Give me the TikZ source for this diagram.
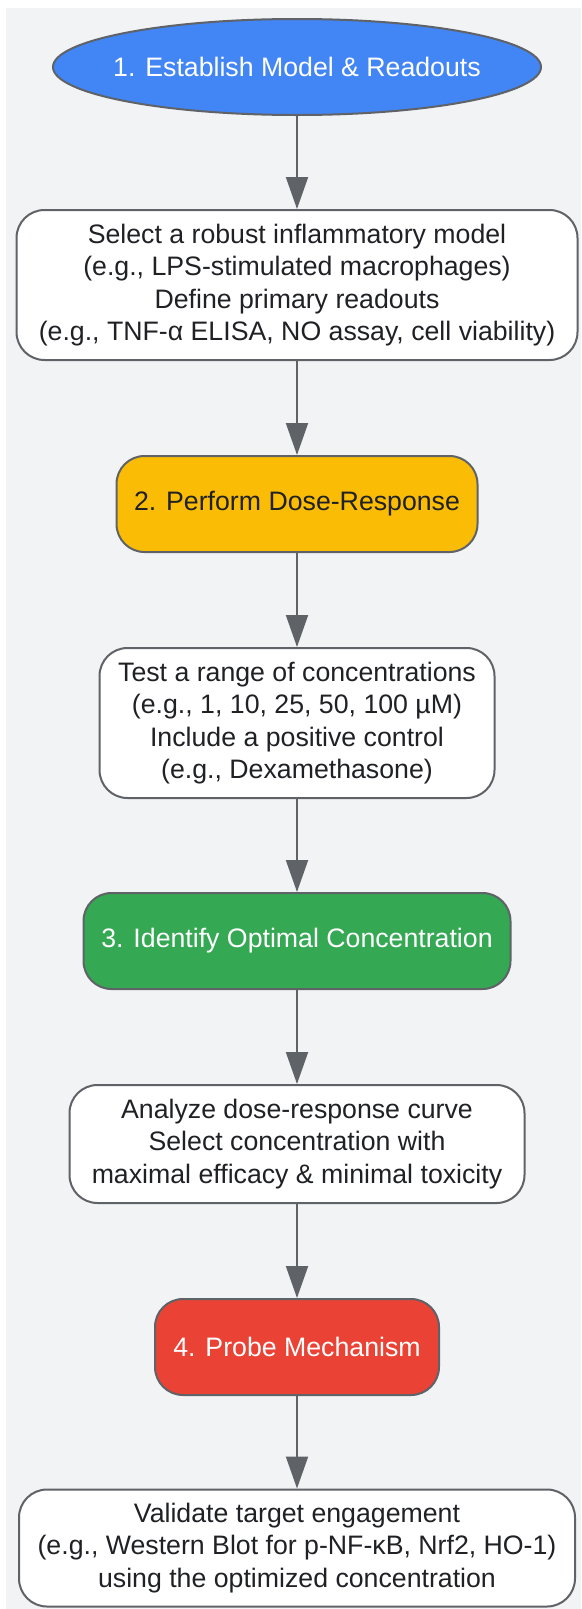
\documentclass[tikz,border=0pt]{standalone}
\usepackage{fontspec}
\setmainfont{Liberation Sans}
\usetikzlibrary{shapes.geometric,arrows.meta}
\definecolor{bgcol}{HTML}{F1F3F4}
\definecolor{edgecol}{HTML}{5F6368}
\definecolor{txtcol}{HTML}{202124}
\definecolor{stepblue}{HTML}{4285F4}
\definecolor{stepyellow}{HTML}{FBBC05}
\definecolor{stepgreen}{HTML}{34A853}
\definecolor{stepred}{HTML}{EA4335}
\begin{document}
\begin{tikzpicture}[x=1pt,y=-1pt,
	every node/.style={font=\fontsize{26.7}{32.5}\selectfont, align=center, inner sep=0pt},
	stage/.style={draw=edgecol, line width=2pt, rounded corners=28pt, minimum height=96pt},
	info/.style={draw=edgecol, line width=2pt, rounded corners=28pt, fill=white, text=txtcol},
	link/.style={draw=edgecol, line width=2pt, -{Triangle[length=32pt,width=22pt]}}]
% page and background
\useasboundingbox (0,0) rectangle (581,1609);
\path [fill=bgcol] (6,8) rectangle (581,1609);
	% stages
	\node[ellipse, draw=edgecol, line width=2pt, fill=stepblue, text=white,
		minimum width=488pt, minimum height=96pt] (model) at (297,67) {\makebox[0pt]{1. Establish Model \& Readouts}};
	\node[info, minimum width=561pt, minimum height=150pt] (modelinfo) at (297,285)
		{Select a robust inflammatory model\\(e.g., LPS-stimulated macrophages)\\Define primary readouts\\(e.g., TNF-α ELISA, NO assay, cell viability)};
	\node[stage, fill=stepyellow, text=txtcol, minimum width=361pt] (dose) at (297,504) {2. Perform Dose-Response};
	\node[info, minimum width=395pt, minimum height=150pt] (doseinfo) at (297,723)
		{Test a range of concentrations\\(e.g., 1, 10, 25, 50, 100 µM)\\Include a positive control\\(e.g., Dexamethasone)};
	\node[stage, fill=stepgreen, text=white, minimum width=427pt] (optimal) at (297,941) {3. Identify Optimal Concentration};
	\node[info, minimum width=455pt, minimum height=118pt] (optimalinfo) at (297,1144)
		{Analyze dose-response curve\\Select concentration with\\maximal efficacy \& minimal toxicity};
	\node[stage, fill=stepred, text=white, minimum width=284pt] (mech) at (297,1347) {4. Probe Mechanism};
	\node[info, minimum width=556pt, minimum height=117pt] (mechinfo) at (297,1548)
		{Validate target engagement\\(e.g., Western Blot for p-NF-κB, Nrf2, HO-1)\\using the optimized concentration};
	% arrows
	\draw[link] (model) -- (modelinfo);
	\draw[link] (modelinfo) -- (dose);
	\draw[link] (dose) -- (doseinfo);
	\draw[link] (doseinfo) -- (optimal);
	\draw[link] (optimal) -- (optimalinfo);
	\draw[link] (optimalinfo) -- (mech);
	\draw[link] (mech) -- (mechinfo);
\end{tikzpicture}
\end{document}
